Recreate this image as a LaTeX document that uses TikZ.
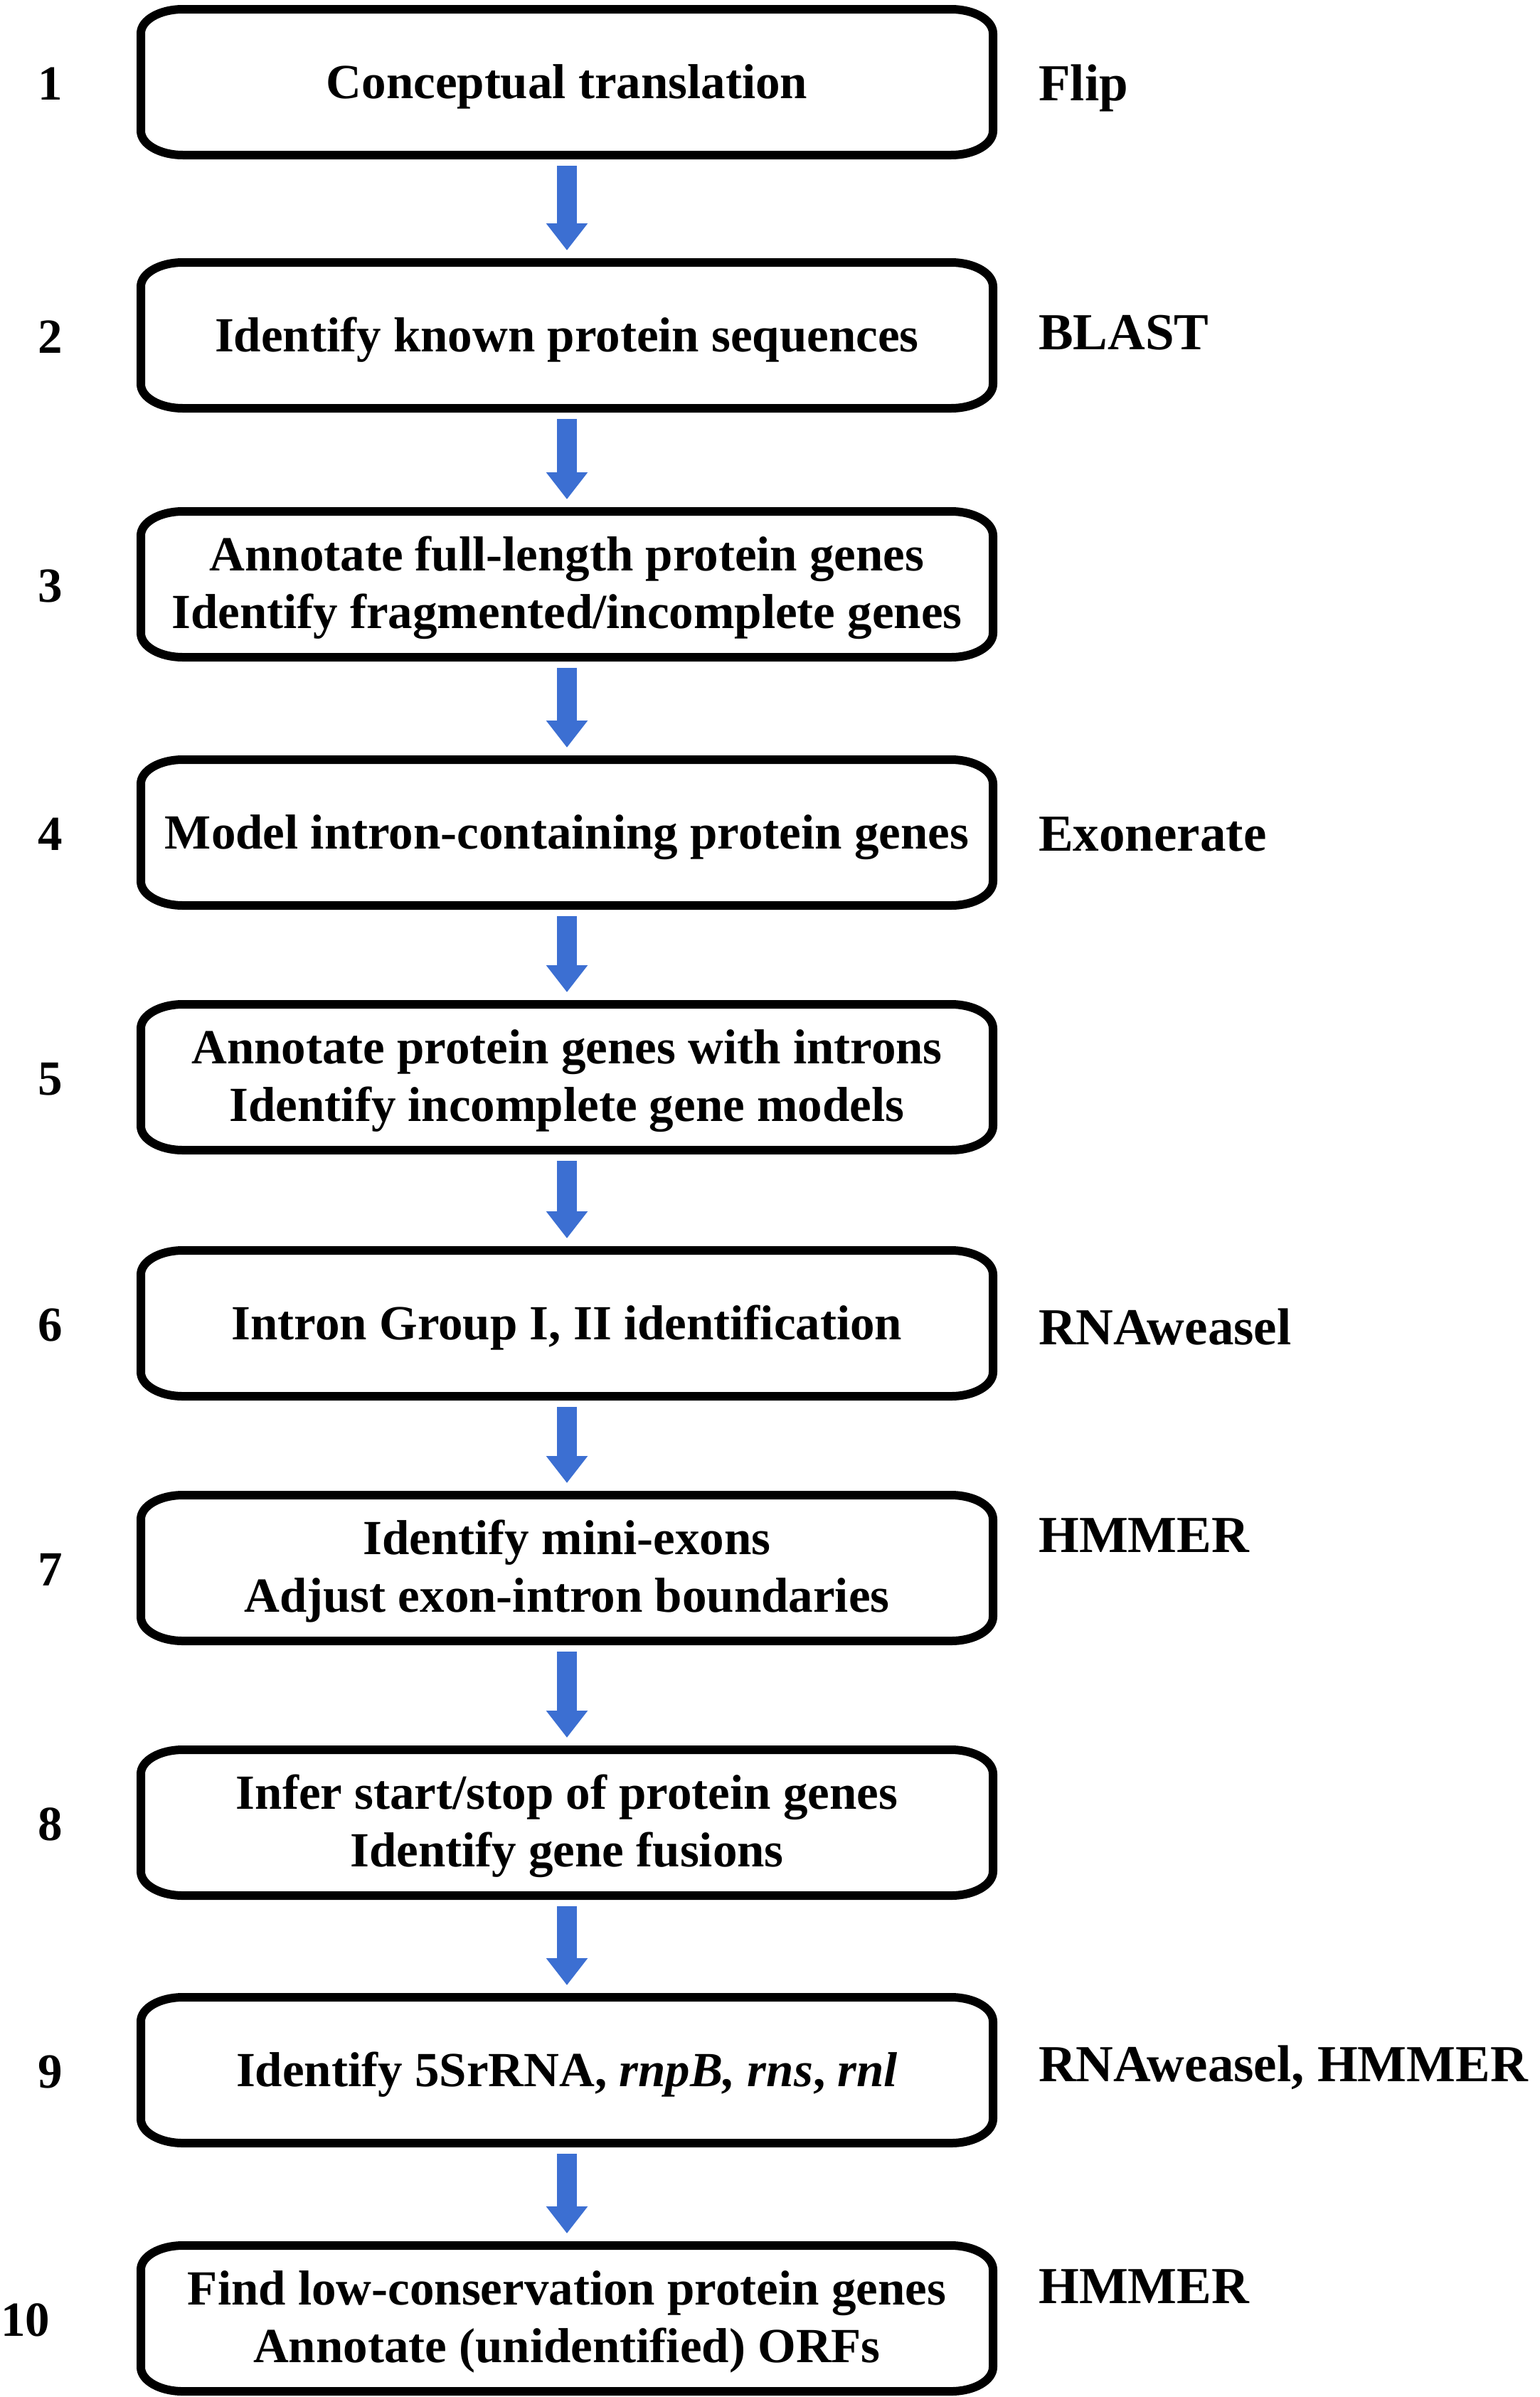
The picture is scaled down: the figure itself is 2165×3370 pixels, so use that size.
\documentclass[tikz,border=0pt]{standalone}
\usepackage{fontspec}
\setmainfont{Liberation Serif}
\usetikzlibrary{arrows.meta,calc}
\definecolor{arrowblue}{RGB}{60,111,210}
\newcommand\boxoutline[1]{%
  \draw[boxline] ([xshift=59pt]#1.north west) -- ([xshift=-59pt]#1.north east)
    arc[start angle=90,end angle=0,x radius=59pt,y radius=34pt]
    -- ([yshift=34pt]#1.south east)
    arc[start angle=0,end angle=-90,x radius=59pt,y radius=34pt]
    -- ([xshift=59pt]#1.south west)
    arc[start angle=270,end angle=180,x radius=59pt,y radius=34pt]
    -- ([yshift=-34pt]#1.north west)
    arc[start angle=180,end angle=90,x radius=59pt,y radius=34pt] -- cycle;}
\tikzset{
  stepbox/.style={rectangle, draw=none, minimum width=1198pt, minimum height=205pt, inner sep=0pt, outer sep=0pt},
  boxline/.style={line width=12pt, black, line join=round},
  btxt/.style={inner sep=0pt, anchor=base, font=\fontsize{69}{81}\selectfont\bfseries},
  numtxt/.style={inner sep=0pt, anchor=base, font=\fontsize{69}{81}\selectfont\bfseries},
  tooltxt/.style={inner sep=0pt, anchor=base west, font=\fontsize{73}{86}\selectfont\bfseries},
  flowarrow/.style={draw=arrowblue, line width=28pt, -{Triangle[width=56pt,length=38pt]}, shorten <=15pt, shorten >=17pt}
}
\begin{document}
\begin{tikzpicture}[x=1pt,y=-1pt]
\useasboundingbox (0,0) rectangle (2165,3370);
\fill[white] (0,0) rectangle (2165,3370);
% boxes
\node[stepbox] (b1) at (797,115.5) {};
\node[stepbox] (b2) at (797,471.5) {};
\node[stepbox] (b3) at (797,821.5) {};
\node[stepbox] (b4) at (797,1170.5) {};
\node[stepbox] (b5) at (797,1514.5) {};
\node[stepbox] (b6) at (797,1860.5) {};
\node[stepbox] (b7) at (797,2204.5) {};
\node[stepbox] (b8) at (797,2562.5) {};
\node[stepbox] (b9) at (797,2910.5) {};
\node[stepbox] (b10) at (797,3259.5) {};
\foreach \n in {b1,b2,b3,b4,b5,b6,b7,b8,b9,b10}{\boxoutline{\n}}
% arrows
\draw[flowarrow] (b1) -- (b2);
\draw[flowarrow] (b2) -- (b3);
\draw[flowarrow] (b3) -- (b4);
\draw[flowarrow] (b4) -- (b5);
\draw[flowarrow] (b5) -- (b6);
\draw[flowarrow] (b6) -- (b7);
\draw[flowarrow] (b7) -- (b8);
\draw[flowarrow] (b8) -- (b9);
\draw[flowarrow] (b9) -- (b10);
% box texts
\node[btxt] (t1) at ($(b1.center)+(0,23)$) {Conceptual translation};
\node[btxt] (t2) at ($(b2.center)+(0,23)$) {Identify known protein sequences};
\node[btxt] (t3a) at ($(b3.center)+(0,-19.5)$) {Annotate full-length protein genes};
\node[btxt] (t3b) at ($(b3.center)+(0,61.5)$) {Identify fragmented/incomplete genes};
\node[btxt] (t4) at ($(b4.center)+(0,23)$) {Model intron-containing protein genes};
\node[btxt] (t5a) at ($(b5.center)+(0,-19.5)$) {Annotate protein genes with introns};
\node[btxt] (t5b) at ($(b5.center)+(0,61.5)$) {Identify incomplete gene models};
\node[btxt] (t6) at ($(b6.center)+(0,23)$) {Intron Group I, II identification};
\node[btxt] (t7a) at ($(b7.center)+(0,-19.5)$) {Identify mini-exons};
\node[btxt] (t7b) at ($(b7.center)+(0,61.5)$) {Adjust exon-intron boundaries};
\node[btxt] (t8a) at ($(b8.center)+(0,-19.5)$) {Infer start/stop of protein genes};
\node[btxt] (t8b) at ($(b8.center)+(0,61.5)$) {Identify gene fusions};
\node[btxt] (t9) at ($(b9.center)+(0,23)$) {Identify 5SrRNA, \textit{rnpB, rns}, \textit{rnl}};
\node[btxt] (t10a) at ($(b10.center)+(0,-19.5)$) {Find low-conservation protein genes};
\node[btxt] (t10b) at ($(b10.center)+(0,61.5)$) {Annotate (unidentified) ORFs};
% step numbers
\node[numtxt] (n1) at (71,140.5) {1};
\node[numtxt] (n2) at (71,496.5) {2};
\node[numtxt] (n3) at (71,846.5) {3};
\node[numtxt] (n4) at (71,1195.5) {4};
\node[numtxt] (n5) at (71,1539.5) {5};
\node[numtxt] (n6) at (71,1885.5) {6};
\node[numtxt] (n7) at (71,2229.5) {7};
\node[numtxt] (n8) at (71,2587.5) {8};
\node[numtxt] (n9) at (71,2935.5) {9};
\node[numtxt] (n10) at (36,3284.5) {10};
% tool labels
\node[tooltxt] (l1) at (1460,141.5) {Flip};
\node[tooltxt] (l2) at (1460,491.5) {BLAST};
\node[tooltxt] (l4) at (1460,1196.5) {Exonerate};
\node[tooltxt] (l6) at (1460,1890.5) {RNAweasel};
\node[tooltxt] (l7) at (1460,2182.5) {HMMER};
\node[tooltxt] (l9) at (1460,2926.5) {RNAweasel, HMMER};
\node[tooltxt] (l10) at (1460,3238.5) {HMMER};
\end{tikzpicture}
\end{document}
